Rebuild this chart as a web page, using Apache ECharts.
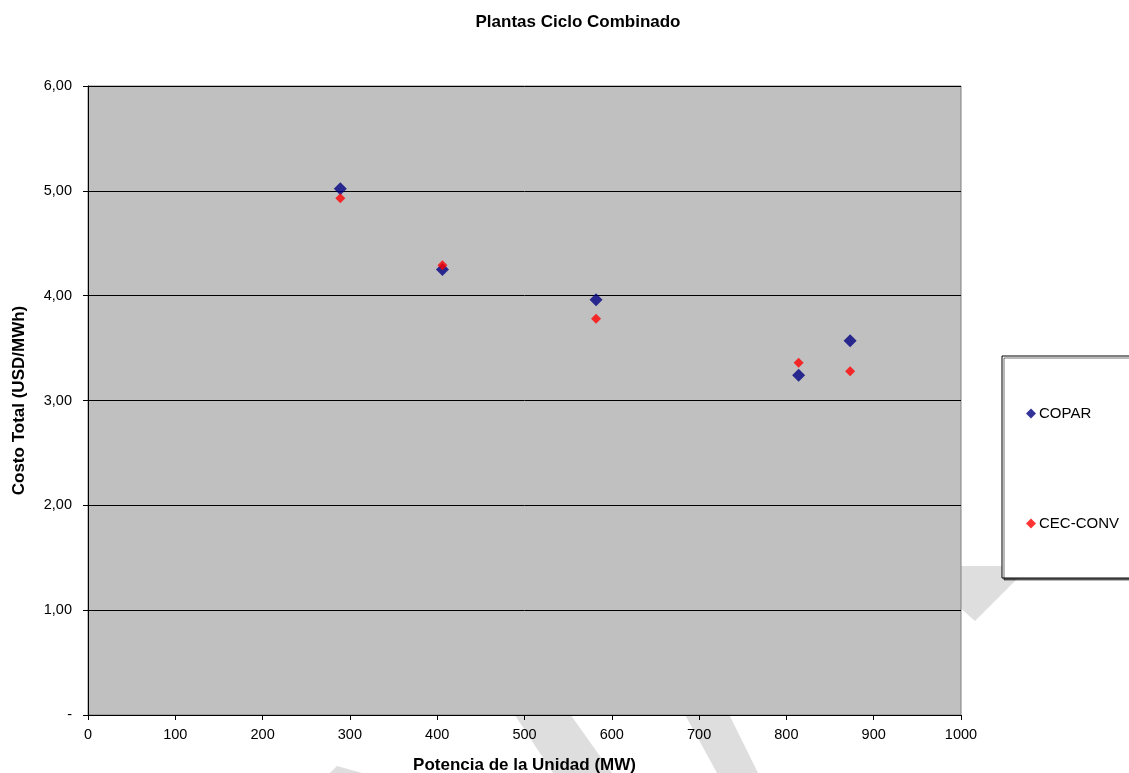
<!DOCTYPE html>
<html>
<head>
<meta charset="utf-8">
<script src="https://cdn.jsdelivr.net/npm/echarts@6/dist/echarts.min.js"></script>
<style>html,body{margin:0;padding:0;background:#fff}#c{width:1129px;height:773px}</style>
</head>
<body>
<div id="c"></div>
<script>
const seriesNames = ['COPAR', 'CEC-CONV'];
const potenciaMW = [289, 406, 582, 814, 873];
const coparCosto = [5.02, 4.25, 3.96, 3.24, 3.57];
const cecConvCosto = [4.93, 4.29, 3.78, 3.36, 3.28];
const xTicks = [0, 100, 200, 300, 400, 500, 600, 700, 800, 900, 1000];
const yTickLabels = ['-', '1,00', '2,00', '3,00', '4,00', '5,00', '6,00'];

const FONT = '"Liberation Sans", Arial, sans-serif';
const chart = echarts.init(document.getElementById('c'), null, {renderer: 'canvas'});
const wm = '#DEDEDE';
chart.setOption({
  backgroundColor: '#fff',
  animation: false,
  title: {
    text: 'Plantas Ciclo Combinado',
    left: 573, top: 9, textAlign: 'center',
    textStyle: {fontFamily: FONT, fontSize: 17, fontWeight: 'bold', color: '#000'}
  },
  graphic: [
    {type: 'polygon', z: -10, silent: true, shape: {points: [[337,766],[362,773],[330,773]]}, style: {fill: wm}},
    {type: 'polygon', z: -10, silent: true, shape: {points: [[505,700],[560,700],[612,773],[553,773]]}, style: {fill: wm}},
    {type: 'polygon', z: -10, silent: true, shape: {points: [[677,700],[722,700],[758,773],[717,773]]}, style: {fill: wm}},
    {type: 'polygon', z: -10, silent: true, shape: {points: [[940,566],[1030,566],[975,621],[940,590]]}, style: {fill: wm}}
  ],
  grid: {
    left: 88, top: 86, width: 873, height: 629,
    outerBoundsMode: 'none', containLabel: false,
    show: true, backgroundColor: '#C0C0C0', borderColor: '#808080', borderWidth: 1
  },
  legend: {
    orient: 'vertical',
    left: 1002, top: 356,
    padding: [50, 120, 47, 24],
    itemGap: 95,
    itemWidth: 10, itemHeight: 10,
    backgroundColor: '#fff',
    borderColor: '#000', borderWidth: 1,
    shadowColor: 'rgba(0,0,0,0.55)', shadowOffsetX: 2, shadowOffsetY: 2, shadowBlur: 0,
    textStyle: {fontFamily: FONT, fontSize: 15, color: '#000', padding: [0, 0, 0, -2]},
    data: [{name: seriesNames[0], icon: 'diamond'}, {name: seriesNames[1], icon: 'diamond'}]
  },
  xAxis: {
    type: 'value', min: xTicks[0], max: xTicks[xTicks.length - 1], interval: 100,
    name: 'Potencia de la Unidad (MW)', nameLocation: 'middle', nameGap: 42,
    nameTextStyle: {fontFamily: FONT, fontSize: 17, fontWeight: 'bold', color: '#000'},
    axisLine: {show: true, onZero: false, lineStyle: {color: '#000', width: 1}},
    axisTick: {show: true, inside: false, length: 5, lineStyle: {color: '#000'}},
    axisLabel: {margin: 12, fontFamily: FONT, fontSize: 14.5, color: '#000', formatter: v => String(v)},
    splitLine: {show: false}
  },
  yAxis: {
    type: 'value', min: 0, max: 6, interval: 1,
    name: 'Costo Total (USD/MWh)', nameLocation: 'middle', nameGap: 60, nameRotate: 90,
    nameTextStyle: {fontFamily: FONT, fontSize: 17, fontWeight: 'bold', color: '#000'},
    axisLine: {show: true, onZero: false, lineStyle: {color: '#000', width: 1}},
    axisTick: {show: true, inside: false, length: 5, lineStyle: {color: '#000'}},
    axisLabel: {
      margin: 16, fontFamily: FONT, fontSize: 14.5, color: '#000',
      formatter: v => yTickLabels[Math.round(v)]
    },
    splitLine: {show: true, lineStyle: {color: '#000', width: 1}}
  },
  series: [
    {
      name: seriesNames[0], type: 'scatter', symbol: 'diamond', symbolSize: 13,
      itemStyle: {color: '#000080'},
      data: potenciaMW.map((x, i) => [x, coparCosto[i]])
    },
    {
      name: seriesNames[1], type: 'scatter', symbol: 'diamond', symbolSize: 10,
      itemStyle: {color: '#FF0000'},
      data: potenciaMW.map((x, i) => [x, cecConvCosto[i]])
    }
  ]
});
</script>
</body>
</html>
